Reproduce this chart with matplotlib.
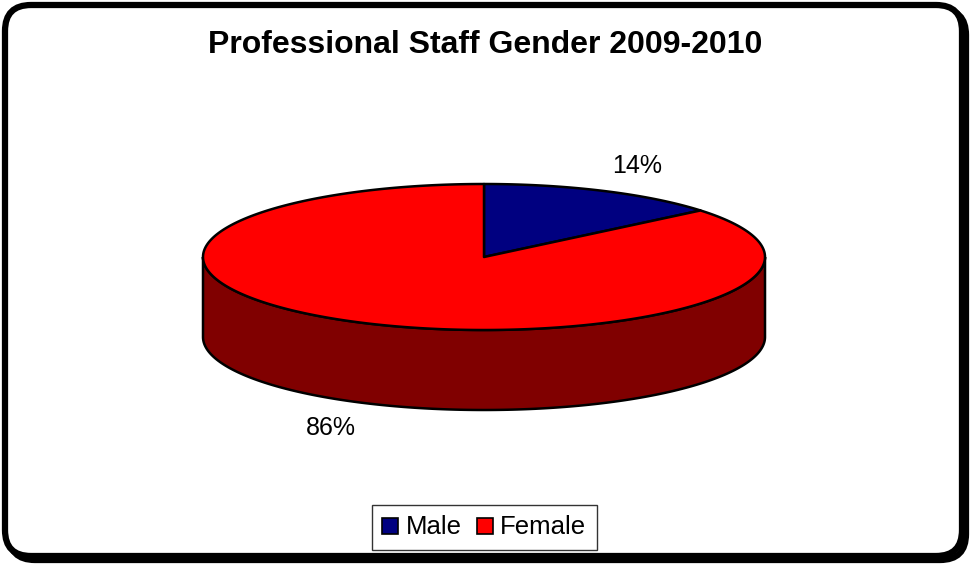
import numpy as np
import matplotlib.pyplot as plt
from matplotlib.patches import Polygon, FancyBboxPatch
from matplotlib.lines import Line2D

# data
labels = ["Male", "Female"]
shares = [14, 86]
top_colors = ["#000080", "#FF0000"]
side_colors = ["#00003F", "#800000"]
title = "Professional Staff Gender 2009-2010"

plt.rcParams['font.family'] = ['Liberation Sans', 'DejaVu Sans']

W, H = 975, 569
fig = plt.figure(figsize=(W / 100, H / 100), dpi=100)
ax = fig.add_axes([0, 0, 1, 1])
ax.set_xlim(0, W)
ax.set_ylim(H, 0)
ax.axis("off")

# outer rounded frame with shadow
ax.add_patch(FancyBboxPatch((9, 9), 957, 551, boxstyle="round,pad=0,rounding_size=26",
                            fc="none", ec="black", lw=4.5, zorder=1))
ax.add_patch(FancyBboxPatch((5, 5), 957, 551, boxstyle="round,pad=0,rounding_size=26",
                            fc="white", ec="black", lw=4.5, zorder=2))

ax.text(485, 45, title, ha="center", va="center", fontsize=23,
        fontweight="bold", zorder=5)

# pie geometry (pixels)
cx, cy, rx, ry, depth = 484, 257, 281, 73, 80


def pt(t, dy=0):
    t = np.radians(t)
    return np.column_stack([cx + rx * np.cos(t), cy - ry * np.sin(t) + dy])


# wedge angles, clockwise from the top
bounds = 90 - np.cumsum([0] + shares) / sum(shares) * 360
wedges = [(bounds[i + 1], bounds[i]) for i in range(len(shares))]

# side walls (front half only)
for (t1, t2), sc in zip(wedges, side_colors):
    for k in (0, 360, -360):
        a, b = max(t1 + k, -180), min(t2 + k, 0)
        if b > a:
            ts = np.linspace(a, b, 200)
            poly = np.vstack([pt(ts), pt(ts[::-1], depth)])
            ax.add_patch(Polygon(poly, closed=True, fc=sc, ec="black",
                                 lw=1.8, zorder=3))

# top faces
for (t1, t2), tc in zip(wedges, top_colors):
    ts = np.linspace(t1, t2, 400)
    poly = np.vstack([[cx, cy], pt(ts)])
    ax.add_patch(Polygon(poly, closed=True, fc=tc, ec="black", lw=1.8,
                         zorder=4, joinstyle="round"))

# percentage labels
for (t1, t2), s in zip(wedges, shares):
    tm = np.radians((t1 + t2) / 2)
    lx = cx + 1.28 * rx * np.cos(tm)
    ly = cy - 1.38 * ry * np.sin(tm)
    if np.sin(tm) < 0:
        ly += depth
    ax.text(lx, ly, f"{s}%", ha="center", va="center", fontsize=18, zorder=5)

# legend
handles = [Line2D([], [], marker="s", ls="none", markersize=12,
                  markerfacecolor=c, markeredgecolor="black", markeredgewidth=1.2)
           for c in top_colors]
leg = fig.legend(handles, labels, loc="center", ncol=2, fontsize=18.5,
                 bbox_to_anchor=(484.5 / W, 1 - 527.5 / H), frameon=True,
                 fancybox=False, handlelength=0.6, handletextpad=0.3,
                 columnspacing=0.6, borderpad=0.4)
leg.get_frame().set_edgecolor("black")
leg.get_frame().set_linewidth(1)
leg.set_zorder(6)

fig.savefig("out.png", dpi=100)
